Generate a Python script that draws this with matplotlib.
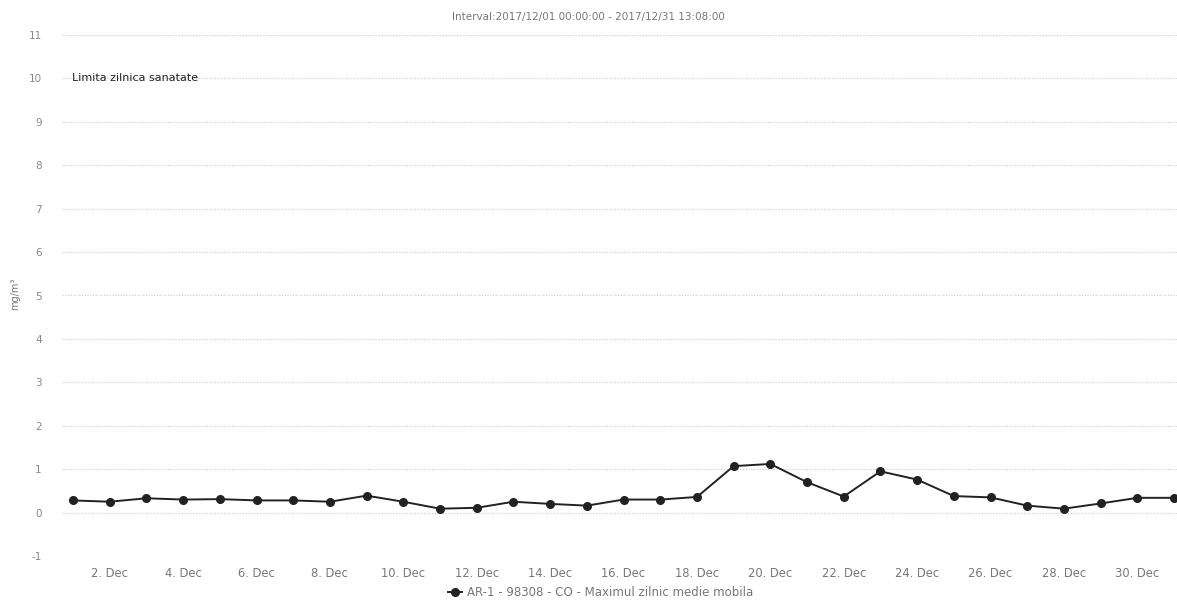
import matplotlib
matplotlib.use("Agg")
import matplotlib.pyplot as plt
import matplotlib.dates as mdates
import matplotlib.transforms as mtrans
from matplotlib.lines import Line2D
import datetime as dt

plt.rcParams["axes.unicode_minus"] = False

title = "Interval:2017/12/01 00:00:00 - 2017/12/31 13:08:00"
series_name = "AR-1 - 98308 - CO - Maximul zilnic medie mobila"
limit_label = "Limita zilnica sanatate"
y_label = "mg/m³"
days = list(range(1, 32))
values = [0.28, 0.25, 0.33, 0.30, 0.31, 0.28, 0.28, 0.25, 0.39, 0.25,
          0.09, 0.11, 0.25, 0.20, 0.16, 0.30, 0.30, 0.36, 1.07, 1.12,
          0.70, 0.37, 0.95, 0.76, 0.38, 0.35, 0.16, 0.09, 0.21, 0.34, 0.34]
y_ticks = list(range(-1, 12))
limit_value = 10

dates = [dt.datetime(2017, 12, d) for d in days]

W, H = 1177, 601
fig = plt.figure(figsize=(W / 100, H / 100), dpi=100)
ax = fig.add_axes([62 / W, 1 - 556 / H, 1 - 62 / W, (556 - 35) / H])

ax.plot(dates, values, color="#222222", lw=1.4, marker="o", ms=5.5,
        markerfacecolor="#222222", markeredgecolor="#222222", zorder=3)

start = dt.datetime(2017, 12, 1)
ax.set_xlim(start - dt.timedelta(days=0.30), start + dt.timedelta(days=30.08))
ax.set_ylim(-1, 11)
ax.set_yticks(y_ticks)
ax.yaxis.grid(True, color="#c8c8c8", lw=0.8, ls=(0, (1, 1.5)))
ax.xaxis.grid(False)
for s in ax.spines.values():
    s.set_visible(False)

ax.xaxis.set_major_locator(mdates.DayLocator(bymonthday=list(range(2, 32, 2))))
ax.xaxis.set_major_formatter(mdates.DateFormatter("%-d. Dec"))
ax.tick_params(axis="x", length=0, pad=8, labelsize=8.3, labelcolor="#777777")
ax.tick_params(axis="y", length=0, pad=14.5, labelsize=7.5, labelcolor="#888888")

ax.text(72, limit_value, limit_label,
        transform=mtrans.blended_transform_factory(mtrans.IdentityTransform(), ax.transData),
        fontsize=8, color="#222222", va="center", ha="left")

fig.text(15 / W, 1 - 294 / H, y_label, rotation=90, fontsize=7, color="#777777",
         ha="center", va="center")
fig.text(0.5, 1 - 17 / H, title, fontsize=7.5, color="#777777",
         ha="center", va="center")

handle = Line2D([0], [0], color="#222222", lw=1.4, marker="o", ms=5.5)
fig.legend([handle], [series_name], loc="center", bbox_to_anchor=(0.51, 1 - 593 / H),
           frameon=False, fontsize=8.5, labelcolor="#777777", handlelength=1.2,
           handletextpad=0.4)

fig.savefig("out.png", dpi=100, facecolor="white")
